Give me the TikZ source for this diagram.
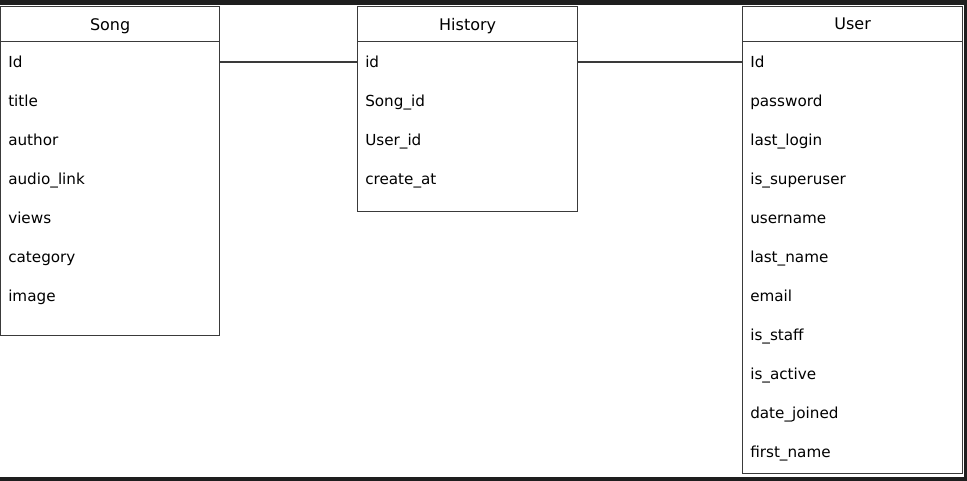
\documentclass[tikz,border=0pt]{standalone}
\usepackage{fontspec}
\setmainfont{DejaVu Sans}
\usetikzlibrary{positioning}
\definecolor{framedark}{HTML}{1E1E1E}
\definecolor{boxline}{HTML}{3A3A3A}
\tikzset{
  tabhead/.style={draw=boxline,line width=1pt,anchor=north west,minimum height=26.25pt,inner sep=0pt,text depth=0pt,font=\fontsize{12}{14}\selectfont,fill=white},
  tabbody/.style={draw=boxline,line width=1pt,anchor=north west,inner sep=0pt,fill=white},
  field/.style={anchor=base west,inner sep=0pt,text height=8.25pt,text depth=0pt,font=\fontsize{11.4}{13}\selectfont},
  link/.style={line width=1pt,draw=boxline}
}

\begin{document}
\begin{tikzpicture}[x=0.75pt,y=-0.75pt]
% dark window frame
\fill[framedark] (0,0) rectangle (967,481);
\fill[white] (0,5) rectangle (964,477);
\useasboundingbox (0,0) rectangle (967,481);

% Song
\node[tabbody,minimum width=164.25pt,minimum height=220.5pt] (songbd) at (0,41) {};
\node[tabhead,minimum width=164.25pt] (songhd) at (0,6) {Song};
\foreach \t [count=\i] in {Id,title,author,audio\_link,views,category,image}
  \node[field] (song\i) at (8,28.5+39*\i) {\t};

% History
\node[tabbody,minimum width=165pt,minimum height=127.5pt] (histbd) at (357,41) {};
\node[tabhead,minimum width=165pt] (histhd) at (357,6) {History};
\foreach \t [count=\i] in {id,Song\_id,User\_id,create\_at}
  \node[field] (hist\i) at (365,28.5+39*\i) {\t};

% User
\node[tabbody,minimum width=165pt,minimum height=324pt] (userbd) at (742,41) {};
\node[tabhead,minimum width=165pt] (userhd) at (742,6) {User};
\foreach \t [count=\i] in {Id,password,last\_login,is\_superuser,username,last\_name,email,is\_staff,is\_active,date\_joined,first\_name}
  \node[field] (user\i) at (750,28.5+39*\i) {\t};

% links
\draw[link] (songbd.east |- hist1) -- (histbd.west |- hist1);
\draw[link] (histbd.east |- user1) -- (userbd.west |- user1);
\end{tikzpicture}
\end{document}
